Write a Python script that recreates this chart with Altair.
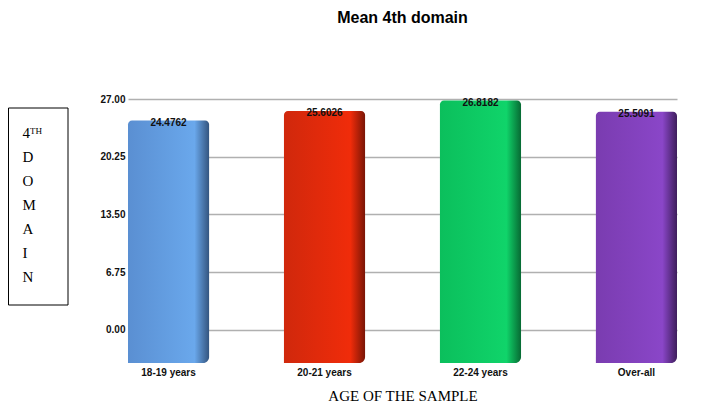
import altair as alt
import pandas as pd

categories = ["18-19 years", "20-21 years", "22-24 years", "Over-all"]
means = [24.4762, 25.6026, 26.8182, 25.5091]
bar_colors = ["#5a8fd2", "#d0280c", "#0bbf5c", "#7a3cb0"]
bar_light = ["#6aa8ec", "#f02c0a", "#10d46a", "#8a46c8"]
bar_dark = ["#34557f", "#7a1506", "#076a33", "#3e1e5c"]
y_ticks = [0, 6.75, 13.5, 20.25, 27]
Y_MIN = -3.86
Y_MAX = 27

df = pd.DataFrame({"age": categories, "mean": means})

x_enc = alt.X(
    "age:N",
    sort=categories,
    scale=alt.Scale(paddingInner=0.48, paddingOuter=0),
    axis=alt.Axis(
        title="AGE OF THE SAMPLE",
        titleFont="Liberation Serif",
        titleFontSize=15,
        titleFontWeight="normal",
        titleColor="#000",
        titlePadding=11,
        labelFont="Liberation Sans",
        labelFontSize=10,
        labelFontWeight="bold",
        labelColor="#111",
        labelPadding=4,
        labelAngle=0,
        domain=False,
        ticks=False,
        grid=False,
    ),
)

y_scale = alt.Scale(domain=[Y_MIN, Y_MAX], nice=False, zero=False)

y_axis = alt.Axis(
    values=y_ticks,
    format=".2f",
    title=["4ᵀᴴ", "D", "O", "M", "A", "I", "N"],
    titleAngle=0,
    titleAlign="left",
    titleBaseline="alphabetic",
    titleX=-106,
    titleY=38,
    titleLineHeight=24,
    titleFont="Liberation Serif",
    titleFontSize=15,
    titleFontWeight="normal",
    titleColor="#000",
    labelFont="Liberation Sans",
    labelFontSize=10,
    labelFontWeight="bold",
    labelColor="#111",
    labelPadding=3,
    domain=False,
    ticks=False,
    grid=True,
    gridColor="#b0b0b0",
    gridWidth=1.5,
)

y_enc = alt.Y("mean:Q", scale=y_scale, axis=y_axis)

layers = []
for i, cat in enumerate(categories):
    grad = alt.Gradient(
        gradient="linear", x1=0, x2=1, y1=0, y2=0,
        stops=[
            alt.GradientStop(color=bar_colors[i], offset=0),
            alt.GradientStop(color=bar_light[i], offset=0.82),
            alt.GradientStop(color=bar_dark[i], offset=1),
        ],
    )
    layer = alt.Chart(df).transform_filter(alt.datum.age == cat).mark_bar(
        color=grad, cornerRadiusTopLeft=4, cornerRadiusTopRight=4,
        cornerRadiusBottomRight=6,
    ).encode(
        x=x_enc,
        y=y_enc,
        y2=alt.datum(Y_MIN),
    )
    layers.append(layer)

labels = alt.Chart(df).mark_text(
    font="Liberation Sans", fontSize=10, fontWeight="bold", color="#111",
    baseline="middle", dy=2,
).encode(
    x=x_enc,
    y=y_enc,
    text=alt.Text("mean:Q", format=".4f"),
)

box = alt.Chart(df).transform_filter(alt.datum.age == categories[0]).mark_rect(
    fill=None, stroke="#000", strokeWidth=1
).encode(
    x=alt.value(-119.5), x2=alt.value(-60), y=alt.value(9), y2=alt.value(206)
)

chart = alt.layer(*layers, labels, box).properties(
    width=549,
    height=264,
    title=alt.TitleParams("Mean 4th domain", font="Liberation Sans", fontSize=16,
                          fontWeight="bold", color="#000", anchor="middle", offset=68),
    autosize=alt.AutoSizeParams(type="none"),
    padding={"left": 120, "top": 91, "right": 26, "bottom": 43},
).configure_view(stroke=None)

chart.save("out.html", embed_options={"renderer": "svg", "actions": False})
